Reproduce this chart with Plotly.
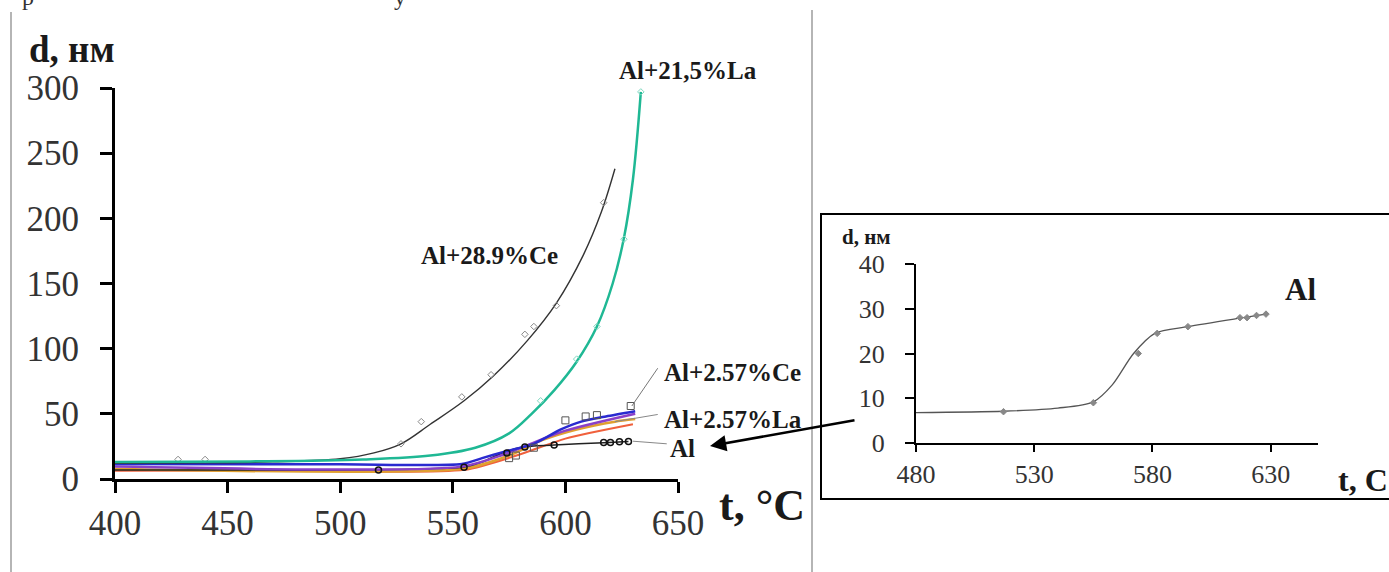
import plotly.graph_objects as go

W, H = 1389, 572


def px(x):
    return x / W


def py(y):
    return 1 - y / H


# ---- main chart: particle size d (nm) vs temperature t (°C) ----
# Al+28.9%Ce
ce289_line_t = [400, 440, 470, 500, 515, 527, 540, 555, 568, 583, 596, 608, 616, 622]
ce289_line_d = [12, 12.4, 13.2, 15.5, 20, 27, 42, 60, 79, 106, 135, 172, 205, 238]
ce289_pts_t = [428, 440, 527, 536, 554, 567, 582, 586, 596, 617]
ce289_pts_d = [15, 15, 27, 44, 63, 80, 111, 117, 133, 212]

# Al+21,5%La
la215_line_t = [400, 460, 510, 540, 560, 575, 585, 595, 605, 614, 621, 626, 630, 633.5]
la215_line_d = [13, 13.5, 15, 18, 24, 35, 50, 68, 90, 117, 150, 185, 230, 297]
la215_pts_t = [589, 605, 614, 626, 633.5]
la215_pts_d = [60, 92, 117, 184, 297]

# Al+2.57%Ce
ce257_line_t = [400, 500, 554, 563, 573, 586, 598, 607, 618, 631]
ce257_line_d = [11.5, 11.3, 11.5, 16, 21, 27, 38, 44, 48, 52]
ce257_fit_t = [400, 554, 573, 598, 631]
ce257_fit_d = [9.5, 9.5, 19, 36, 50]
ce257_pts_t = [575, 578, 586, 600, 609, 614, 629]
ce257_pts_d = [16, 18, 24, 45, 48, 49, 56]

# Al+2.57%La
la257_line_t = [400, 555, 575, 590, 605, 622, 631]
la257_line_d = [7.7, 8, 18, 30, 38, 44, 46]
la257_fit_t = [400, 470, 555, 580, 600, 630]
la257_fit_d = [6.4, 6.5, 7, 19, 31, 42]

# Al
al_t = [517, 555, 574, 582, 595, 617, 620, 624, 628]
al_d = [7, 9, 20, 24.5, 26, 28, 28, 28.5, 28.8]
al_line_t = [400, 480, 517, 540, 555, 563, 572, 581, 595, 617, 628]
al_line_d = [7, 6.8, 7.1, 7.8, 9.2, 13, 20, 24.5, 26, 27.9, 28.8]

x_ticks = [400, 450, 500, 550, 600, 650]
y_ticks = [0, 50, 100, 150, 200, 250, 300]
inset_x_ticks = [480, 530, 580, 630]
inset_y_ticks = [0, 10, 20, 30, 40]

SERIF = "Liberation Serif"

fig = go.Figure()


def curve(t, d, color, width, xa="x", ya="y", smooth=1.0):
    fig.add_trace(go.Scatter(
        x=t, y=d, mode="lines", xaxis=xa, yaxis=ya, showlegend=False,
        line=dict(color=color, width=width, shape="spline", smoothing=smooth),
        hoverinfo="skip"))


def points(t, d, symbol, color, size, xa="x", ya="y", lw=1):
    fig.add_trace(go.Scatter(
        x=t, y=d, mode="markers", xaxis=xa, yaxis=ya, showlegend=False,
        marker=dict(symbol=symbol, size=size, color=color,
                    line=dict(color=color, width=lw)),
        hoverinfo="skip"))


# lower bundle
curve(la257_fit_t, la257_fit_d, "#f0603c", 2, smooth=0.7)
curve(la257_line_t, la257_line_d, "#e0a030", 2.5, smooth=0.7)
curve(al_line_t, al_line_d, "#222222", 1.5, smooth=0.8)
curve(ce257_fit_t, ce257_fit_d, "#8a40c8", 2.5, smooth=0.7)
curve(ce257_line_t, ce257_line_d, "#2a2ad0", 2.5, smooth=0.7)
points(ce257_pts_t, ce257_pts_d, "square-open", "#555555", 7)
points(al_t, al_d, "circle-open", "#111111", 6, lw=1.5)

# upper curves
curve(ce289_line_t, ce289_line_d, "#333333", 1.4)
points(ce289_pts_t, ce289_pts_d, "diamond-open", "#888888", 5)
curve(la215_line_t, la215_line_d, "#1fb894", 2.5)
points(la215_pts_t, la215_pts_d, "diamond-open", "#7fd8c0", 5)

# inset: pure Al
curve(al_line_t[1:], al_line_d[1:], "#555555", 1.3, xa="x2", ya="y2", smooth=0.8)
points(al_t, al_d, "diamond", "#888888", 5, xa="x2", ya="y2")

axis_common = dict(showline=True, linecolor="black", ticks="outside",
                   tickcolor="black", showgrid=False, zeroline=False,
                   fixedrange=True, automargin=False)

fig.update_layout(
    width=W, height=H,
    margin=dict(l=0, r=0, t=0, b=0, autoexpand=False),
    paper_bgcolor="white", plot_bgcolor="rgba(0,0,0,0)",
    xaxis=dict(domain=[px(115), px(678)], range=[400, 650], tickvals=x_ticks,
               linewidth=3, tickwidth=3, ticklen=11, anchor="y",
               tickfont=dict(family=SERIF, size=35, color="#333333"),
               ticklabelstandoff=0, **axis_common),
    yaxis=dict(domain=[py(479), py(88)], range=[0, 300], tickvals=y_ticks,
               linewidth=3, tickwidth=3, ticklen=12, anchor="x",
               tickfont=dict(family=SERIF, size=35, color="#333333"),
               ticklabelstandoff=14, **axis_common),
    xaxis2=dict(domain=[px(916), px(1318)], range=[480, 650],
                tickvals=inset_x_ticks, linewidth=2, tickwidth=2, ticklen=7,
                anchor="y2",
                tickfont=dict(family=SERIF, size=26, color="#333333"),
                ticklabelstandoff=0, **axis_common),
    yaxis2=dict(domain=[py(443), py(264)], range=[0, 40],
                tickvals=inset_y_ticks, linewidth=2, tickwidth=2, ticklen=9,
                anchor="x2",
                tickfont=dict(family=SERIF, size=26, color="#333333"),
                ticklabelstandoff=15, **axis_common),
)

shapes = [
    # page borders
    dict(type="line", xref="paper", yref="paper", x0=px(11), x1=px(11),
         y0=py(12), y1=py(572), line=dict(color="#b5b5b5", width=2)),
    dict(type="line", xref="paper", yref="paper", x0=px(812), x1=px(812),
         y0=py(10), y1=py(572), line=dict(color="#b5b5b5", width=2)),
    # inset frame
    dict(type="rect", xref="paper", yref="paper", x0=px(821), x1=px(1400),
         y0=py(499), y1=py(214), line=dict(color="black", width=2)),
    # label leaders
    dict(type="line", xref="x", yref="y", x0=629.5, y0=56, x1=641, y1=85,
         line=dict(color="#777777", width=1)),
    dict(type="line", xref="x", yref="y", x0=622, y0=44, x1=641, y1=49.5,
         line=dict(color="#888888", width=1)),
    dict(type="line", xref="x", yref="y", x0=630, y0=29, x1=645, y1=27,
         line=dict(color="#888888", width=1)),
]
fig.update_layout(shapes=shapes)


def label(text, x, y, size, xanchor="center", weight="bold", color="#1a1a1a"):
    fig.add_annotation(text=text, x=px(x), y=py(y), xref="paper", yref="paper",
                       showarrow=False, xanchor=xanchor, yanchor="middle",
                       font=dict(family=SERIF, size=size, color=color,
                                 weight=weight))


label("d, нм", 72, 50, 37)
label("t, °C", 762, 505, 44)
label("Al+28.9%Ce", 489, 256, 25)
label("Al+21,5%La", 688, 70, 25)
label("Al+2.57%Ce", 662, 372, 25, xanchor="left")
label("Al+2.57%La", 662, 419, 25, xanchor="left")
label("Al", 668, 448, 25, xanchor="left")

label("d, нм", 866, 237, 21)
label("Al", 1300, 289, 31)
label("t, C", 1336, 480, 32, xanchor="left")

# cut-off line of page text above the figure
label("р", 28, -3, 24, weight="normal", color="#333333")
label("у", 400, -3, 24, weight="normal", color="#333333")

# pointer from the inset to the Al curve
fig.add_annotation(x=px(710), y=py(446), xref="paper", yref="paper",
                   ax=146, ay=-26, text="", showarrow=True, arrowhead=2,
                   arrowsize=1.3, arrowwidth=2.5, arrowcolor="black")

fig.write_html("out.html")
